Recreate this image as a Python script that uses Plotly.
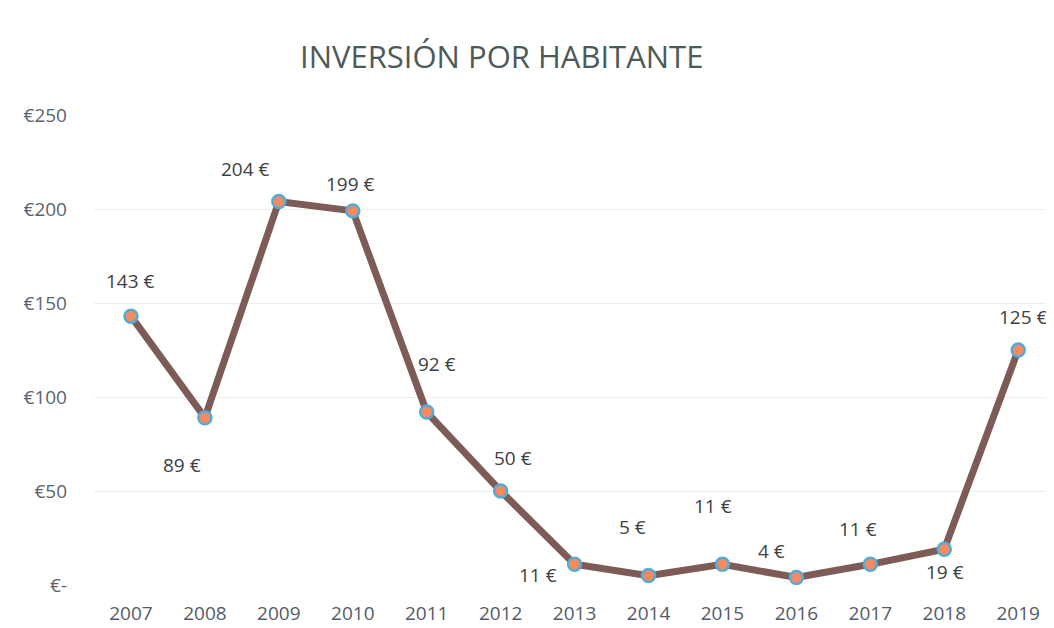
import plotly.graph_objects as go

years = ["2007", "2008", "2009", "2010", "2011", "2012", "2013",
         "2014", "2015", "2016", "2017", "2018", "2019"]
values = [143, 89, 204, 199, 92, 50, 11, 5, 11, 4, 11, 19, 125]
label_texts = [f"{v} €" for v in values]
y_tickvals = [0, 50, 100, 150, 200, 250]
y_ticktext = ["€-", "€50", "€100", "€150", "€200", "€250"]

# label offsets in pixels (style only)
label_dx = [0, -23, -33, -2, 10, 12, -37, -16, -9, -25, -12, 1, 5]
label_dy = [-35, 47, -32, -27, -48, -33, 11, -49, -58, -26, -35, 23, -33]

FONT = "Open Sans"

fig = go.Figure()
fig.add_trace(go.Scatter(
    x=years, y=values, mode="lines+markers",
    line=dict(color="#7d5c57", width=7),
    marker=dict(size=13, color="#f28a62", line=dict(color="#52acd6", width=2.5)),
    hoverinfo="skip",
))

for i, (v, t, dx, dy) in enumerate(zip(values, label_texts, label_dx, label_dy)):
    fig.add_annotation(x=i, y=v, xref="x", yref="y", text=t, showarrow=True,
                       arrowcolor="rgba(0,0,0,0)", arrowwidth=0.1,
                       ax=dx, ay=dy, font=dict(family=FONT, size=19, color="#404040"))

fig.update_layout(
    width=1046, height=620,
    paper_bgcolor="white", plot_bgcolor="white",
    margin=dict(l=86, r=4, t=107, b=43, autoexpand=False),
    showlegend=False,
    title=dict(text="INVERSIÓN POR HABITANTE", x=0.472, xanchor="center",
               y=0.92, yanchor="middle",
               font=dict(family=FONT, size=31, color="#4d5a58")),
    xaxis=dict(type="category", range=[-0.5, 12.43], showgrid=False, zeroline=False,
               showline=False, ticks="", ticklabelstandoff=15, automargin=False,
               tickfont=dict(family=FONT, size=19, color="#555b66")),
    yaxis=dict(range=[0, 250], tickvals=y_tickvals, ticktext=y_ticktext,
               showgrid=True, gridcolor="#ededed", gridwidth=1, zeroline=False,
               showline=False, ticks="", ticklabelstandoff=26, automargin=False,
               tickfont=dict(family=FONT, size=19, color="#5a6470")),
)

fig.write_html("out.html")
